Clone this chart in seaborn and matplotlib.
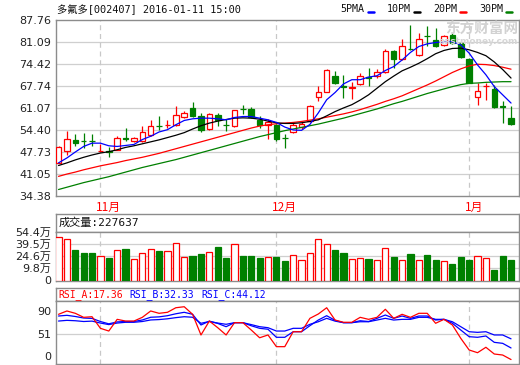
import numpy as np
import matplotlib
matplotlib.use('Agg')
import matplotlib.pyplot as plt
from matplotlib.lines import Line2D
from matplotlib.transforms import blended_transform_factory
import seaborn as sns

# ---- data ----
stock_title = '多氟多[002407] 2016-01-11 15:00'

open_ = [44.4, 48.0, 51.4, 51.0, 51.0, 47.8, 47.9, 48.3, 52.0, 51.1,
         51.1, 52.9, 55.5, 55.8, 55.9, 58.3, 61.0, 58.6, 54.7, 59.0,
         55.9, 55.4, 60.8, 60.8, 57.2, 55.9, 55.9, 52.0, 53.7, 55.2,
         56.9, 64.2, 66.0, 70.8, 67.6, 67.0, 68.3, 70.3, 70.6, 71.9,
         78.2, 75.8, 79.0, 77.2, 83.0, 81.7, 80.2, 83.2, 80.7, 75.8,
         64.3, 67.6, 66.8, 61.5, 58.1]
close = [49.2, 51.7, 50.3, 50.9, 50.9, 48.0, 47.7, 51.8, 51.5, 51.8,
         53.7, 55.4, 55.4, 55.9, 59.0, 59.5, 58.6, 54.4, 59.2, 57.4,
         55.8, 60.3, 60.7, 58.4, 55.7, 56.6, 51.7, 51.9, 55.9, 56.0,
         61.7, 65.9, 72.6, 68.6, 67.5, 67.3, 70.8, 70.2, 71.8, 78.2,
         75.8, 79.9, 78.9, 81.9, 82.9, 79.7, 82.9, 80.7, 76.5, 68.7,
         66.2, 67.8, 61.3, 61.4, 56.1]
high = [49.3, 54.1, 53.2, 53.4, 53.2, 50.0, 49.2, 52.4, 54.9, 52.2,
        55.4, 57.4, 58.7, 57.4, 61.7, 60.0, 62.7, 59.5, 59.5, 59.5,
        57.7, 60.5, 62.0, 61.2, 58.6, 57.7, 56.2, 53.1, 56.5, 56.6,
        62.0, 67.7, 72.8, 72.1, 71.1, 68.9, 71.6, 73.1, 72.8, 78.9,
        78.7, 81.9, 86.2, 83.7, 85.9, 85.2, 83.3, 83.7, 81.2, 76.3,
        68.6, 68.6, 68.1, 63.0, 61.7]
low = [44.2, 46.8, 49.3, 48.9, 49.3, 47.7, 46.0, 48.2, 51.1, 50.8,
       50.8, 52.6, 54.4, 54.9, 55.6, 58.0, 58.3, 53.6, 54.2, 55.6,
       53.9, 55.2, 59.3, 58.1, 54.9, 51.6, 50.9, 48.9, 53.4, 54.6,
       56.6, 63.0, 65.8, 68.4, 64.0, 63.8, 68.0, 67.7, 70.1, 71.6,
       73.1, 75.6, 78.6, 76.9, 79.9, 79.4, 80.0, 80.5, 76.2, 68.5,
       62.0, 63.5, 61.0, 56.4, 55.9]

ma5 = [44.3, 45.8, 47.6, 49.3, 50.3, 50.3, 49.5, 49.3, 49.6, 49.9,
       51.4, 52.4, 53.7, 54.4, 55.9, 57.2, 57.7, 57.9, 57.9, 57.7,
       57.4, 58.1, 58.4, 58.4, 57.9, 57.4, 56.6, 55.2, 54.3, 54.2,
       56.0, 59.5, 63.5, 65.7, 68.3, 69.6, 69.6, 70.4, 70.8, 72.4,
       73.6, 75.6, 77.9, 79.7, 80.5, 80.9, 81.2, 81.2, 80.2, 77.7,
       74.1, 71.1, 67.5, 65.0, 62.5]
ma10 = [43.5, 44.3, 45.2, 46.0, 46.7, 47.3, 47.7, 48.3, 49.0, 49.5,
        50.1, 50.7, 51.3, 52.0, 52.7, 53.5, 54.6, 55.6, 56.4, 57.0,
        57.5, 57.9, 58.0, 57.9, 57.6, 57.0, 56.5, 56.3, 56.3, 56.5,
        56.9, 57.4, 58.6, 59.9, 61.0, 62.0, 63.4, 65.0, 67.0, 69.0,
        70.7, 72.3, 73.4, 74.6, 76.0, 77.5, 78.5, 79.1, 79.2, 78.7,
        77.9, 76.9, 75.0, 72.7, 70.1]
ma20 = [40.2, 40.9, 41.5, 42.2, 42.8, 43.4, 43.9, 44.4, 45.0, 45.5,
        46.0, 46.6, 47.2, 47.9, 48.6, 49.3, 50.0, 50.7, 51.4, 52.1,
        52.8, 53.5, 54.2, 54.9, 55.5, 55.9, 56.2, 56.4, 56.6, 56.9,
        57.3, 57.7, 58.2, 58.7, 59.2, 59.8, 60.5, 61.3, 62.1, 63.0,
        63.8, 64.7, 65.8, 66.9, 68.0, 69.2, 70.5, 71.8, 72.9, 73.8,
        74.3, 74.2, 73.9, 73.4, 72.8]
ma30 = [36.2, 36.9, 37.6, 38.3, 38.9, 39.5, 40.1, 40.8, 41.5, 42.2,
        42.9, 43.5, 44.1, 44.7, 45.3, 46.0, 46.7, 47.4, 48.1, 48.8,
        49.5, 50.2, 50.9, 51.6, 52.3, 52.9, 53.5, 54.1, 54.6, 55.1,
        55.6, 56.1, 56.7, 57.3, 57.9, 58.6, 59.3, 60.0, 60.7, 61.5,
        62.3, 63.0, 63.8, 64.6, 65.4, 66.1, 66.8, 67.5, 68.1, 68.5,
        68.6, 68.8, 68.9, 69.0, 69.0]

# volume in 万 (10k shares)
volume = [48.4, 46.1, 34.0, 30.9, 30.9, 27.2, 25.3, 34.0, 35.1, 24.6,
          30.6, 35.1, 32.9, 32.9, 41.9, 26.1, 27.2, 29.8, 31.7, 37.4,
          25.3, 40.8, 27.2, 27.2, 25.3, 26.1, 26.1, 21.5, 28.3, 23.4,
          30.6, 46.1, 40.8, 34.0, 30.6, 24.6, 25.7, 23.8, 23.4, 35.9,
          26.1, 23.4, 29.8, 23.4, 28.3, 22.7, 22.3, 18.1, 26.1, 22.7,
          27.9, 25.7, 11.3, 27.2, 22.8]
volume_last = '227637'

rsi_a = [75.8, 80.1, 77.1, 71.9, 72.7, 57.7, 54.2, 69.3, 67.1, 67.1,
         71.9, 80.1, 77.1, 78.4, 84.3, 85.6, 75.8, 49.1, 67.1, 58.5,
         49.1, 65.0, 65.0, 55.5, 45.5, 49.1, 34.0, 34.0, 53.3, 53.3,
         70.6, 76.2, 84.3, 68.4, 65.5, 65.5, 71.9, 69.3, 71.9, 82.3,
         70.6, 75.8, 71.9, 77.1, 77.1, 64.2, 69.3, 62.0, 44.8, 29.7,
         26.2, 33.2, 24.5, 23.2, 17.36]
rsi_b = [73.6, 74.5, 73.0, 71.0, 70.5, 66.5, 63.5, 66.0, 66.5, 66.5,
         68.5, 72.0, 72.5, 74.0, 76.5, 78.4, 75.8, 62.0, 67.0, 64.0,
         59.8, 65.0, 65.0, 61.0, 57.7, 56.5, 46.1, 46.1, 53.3, 53.3,
         61.1, 68.4, 74.0, 68.0, 65.0, 65.0, 67.5, 66.5, 70.6, 74.9,
         70.6, 73.6, 70.6, 73.6, 73.6, 68.4, 69.3, 64.2, 55.5, 46.9,
         46.1, 47.8, 39.6, 38.3, 32.33]
rsi_c = [67.1, 68.0, 67.5, 66.5, 67.0, 64.5, 62.5, 64.5, 65.5, 65.5,
         66.5, 68.5, 69.0, 70.0, 71.5, 72.7, 72.0, 64.2, 66.5, 64.5,
         62.9, 65.0, 65.0, 62.5, 59.8, 58.5, 54.2, 54.2, 57.7, 57.7,
         62.9, 66.2, 70.6, 67.0, 65.0, 65.0, 66.2, 66.2, 68.4, 70.6,
         68.4, 69.3, 69.3, 71.9, 71.9, 69.3, 69.3, 66.2, 59.8, 53.3,
         52.5, 53.3, 49.1, 49.1, 44.12]

price_ticks = [34.38, 41.05, 47.73, 54.40, 61.07, 67.74, 74.42, 81.09, 87.76]
price_labels = ['34.38', '41.05', '47.73', '54.40', '61.07', '67.74', '74.42', '81.09', '87.76']
vol_labels = ['0', '9.8万', '24.6万', '39.5万', '54.4万']
rsi_labels = ['0', '51', '90']
month_pos = [5, 26, 49]
month_labels = ['11月', '12月', '1月']
ma_names = ['5PMA', '10PM', '20PM', '30PM']

# ---- style ----
RED, GREEN, BLUE = '#ff0000', '#008000', '#0000ff'
FRAME, GRID, DASH = '#8c8c8c', '#cfcfcf', '#c8c8c8'

sns.set_style('white')
plt.rcParams['font.family'] = ['DejaVu Sans', 'Noto Sans CJK SC']
MONO = ['DejaVu Sans Mono', 'Noto Sans CJK SC']

W, H = 520, 365
fig = plt.figure(figsize=(W / 100, H / 100), dpi=100)


def box(l, t, r, b):
    return [l / W, 1 - b / H, (r - l) / W, (b - t) / H]


def frame(ax):
    for s in ax.spines.values():
        s.set_visible(True)
        s.set_color(FRAME)
        s.set_linewidth(1.0)
    ax.set_xlim(-0.36, 54.95)
    ax.set_xticks([])
    ax.tick_params(axis='y', length=0, pad=3, labelsize=8, colors='#222222')


n = len(close)
idx = np.arange(n)
o, c, h, l = map(np.array, (open_, close, high, low))
up = c >= o
col = np.where(up, RED, GREEN)

# ---- main price panel ----
ax = fig.add_axes(box(55.5, 20, 519, 195.5))
frame(ax)
ax.set_ylim(price_ticks[0], price_ticks[-1])
ax.set_yticks(price_ticks)
ax.set_yticklabels(price_labels)
for y in price_ticks[1:-1]:
    ax.axhline(y, color=GRID, lw=0.9, zorder=0)
for m in month_pos:
    ax.axvline(m, color=DASH, lw=0.9, ls=(0, (4, 3)), zorder=0)

ax.vlines(idx, l, h, colors=col, lw=0.9, zorder=3)
body_bot = np.minimum(o, c)
body_h = np.maximum(np.abs(c - o), 0.12)
ax.bar(idx, body_h, bottom=body_bot, width=0.66,
       facecolor=np.where(up, 'white', GREEN), edgecolor=col, linewidth=0.9, zorder=4)

for vals, color in [(ma30, GREEN), (ma20, RED), (ma10, 'black'), (ma5, BLUE)]:
    sns.lineplot(x=idx, y=vals, ax=ax, color=color, linewidth=0.9, zorder=5, legend=False)
ax.set_xlabel('')
ax.set_ylabel('')

trans = blended_transform_factory(ax.transData, ax.transAxes)
for m, lab in zip(month_pos, month_labels):
    ax.text(m - 0.5, -0.068, lab, transform=trans, ha='left', va='center',
            color=RED, fontsize=8.5, family=['Noto Sans CJK SC'])

# title, legend, watermark
fig.text(57 / W, 1 - 10 / H, stock_title, ha='left', va='center',
         fontsize=7.4, family=MONO, color='#111111')
legend_x = [340, 387, 433, 479]
for name, color, x0 in zip(ma_names, [BLUE, 'black', RED, GREEN], legend_x):
    fig.text(x0 / W, 1 - 9.5 / H, name, ha='left', va='center',
             fontsize=7.2, family=MONO, color='#111111')
    dx = x0 + (28 if name == '5PMA' else 27)
    fig.add_artist(Line2D([dx / W, (dx + 6) / W], [1 - 12 / H, 1 - 12 / H],
                          color=color, lw=1.8, transform=fig.transFigure))
fig.text(518 / W, 1 - 29 / H, '东方财富网', ha='right', va='center', fontsize=10.5,
         fontweight='bold', color='#d2d2d2', family=['Noto Sans CJK SC'], zorder=0)
fig.text(518 / W, 1 - 41 / H, 'eastmoney.com', ha='right', va='center', fontsize=6.5,
         fontweight='bold', color='#d6d6d6', zorder=0)

# ---- volume panel ----
axh = fig.add_axes(box(55.5, 214, 519, 232))
frame(axh)
axh.set_yticks([])
axh.text(0.006, 0.5, '成交量:' + volume_last, transform=axh.transAxes, ha='left',
         va='center', fontsize=8, family=MONO, color='#111111')

axv = fig.add_axes(box(55.5, 232, 519, 280.5))
frame(axv)
vol_ticks = np.linspace(0, 54.4, len(vol_labels))
axv.set_ylim(0, 54.4)
axv.set_yticks(vol_ticks)
axv.set_yticklabels(vol_labels)
for y in vol_ticks[1:-1]:
    axv.axhline(y, color=GRID, lw=0.9, zorder=0)
for m in month_pos:
    axv.axvline(m, color=DASH, lw=0.9, ls=(0, (4, 3)), zorder=0)
axv.bar(idx, volume, width=0.74, facecolor=np.where(up, 'white', GREEN),
        edgecolor=col, linewidth=0.9, zorder=3)

# ---- RSI panel ----
axrh = fig.add_axes(box(55.5, 288, 519, 301))
frame(axrh)
axrh.set_yticks([])
for txt, color, x0 in [('RSI_A:%.2f' % rsi_a[-1], RED, 58),
                       ('RSI_B:%.2f' % rsi_b[-1], BLUE, 129),
                       ('RSI_C:%.2f' % rsi_c[-1], BLUE, 201)]:
    fig.text(x0 / W, 1 - 294.5 / H, txt, ha='left', va='center', fontsize=7,
             family=MONO, color=color)

axr = fig.add_axes(box(55.5, 301, 519, 364))
frame(axr)
axr.set_ylim(11.6, 93.0)
axr.set_yticks([21.9, 51, 80.1])
axr.set_yticklabels(rsi_labels)
axr.axhline(51, color=GRID, lw=0.9, zorder=0)
for m in month_pos:
    axr.axvline(m, color=DASH, lw=0.9, ls=(0, (4, 3)), zorder=0)
for vals, color in [(rsi_c, BLUE), (rsi_b, BLUE), (rsi_a, RED)]:
    sns.lineplot(x=idx, y=vals, ax=axr, color=color, linewidth=0.9, legend=False)
axr.set_xlabel('')
axr.set_ylabel('')

fig.savefig('out.png', dpi=100)
